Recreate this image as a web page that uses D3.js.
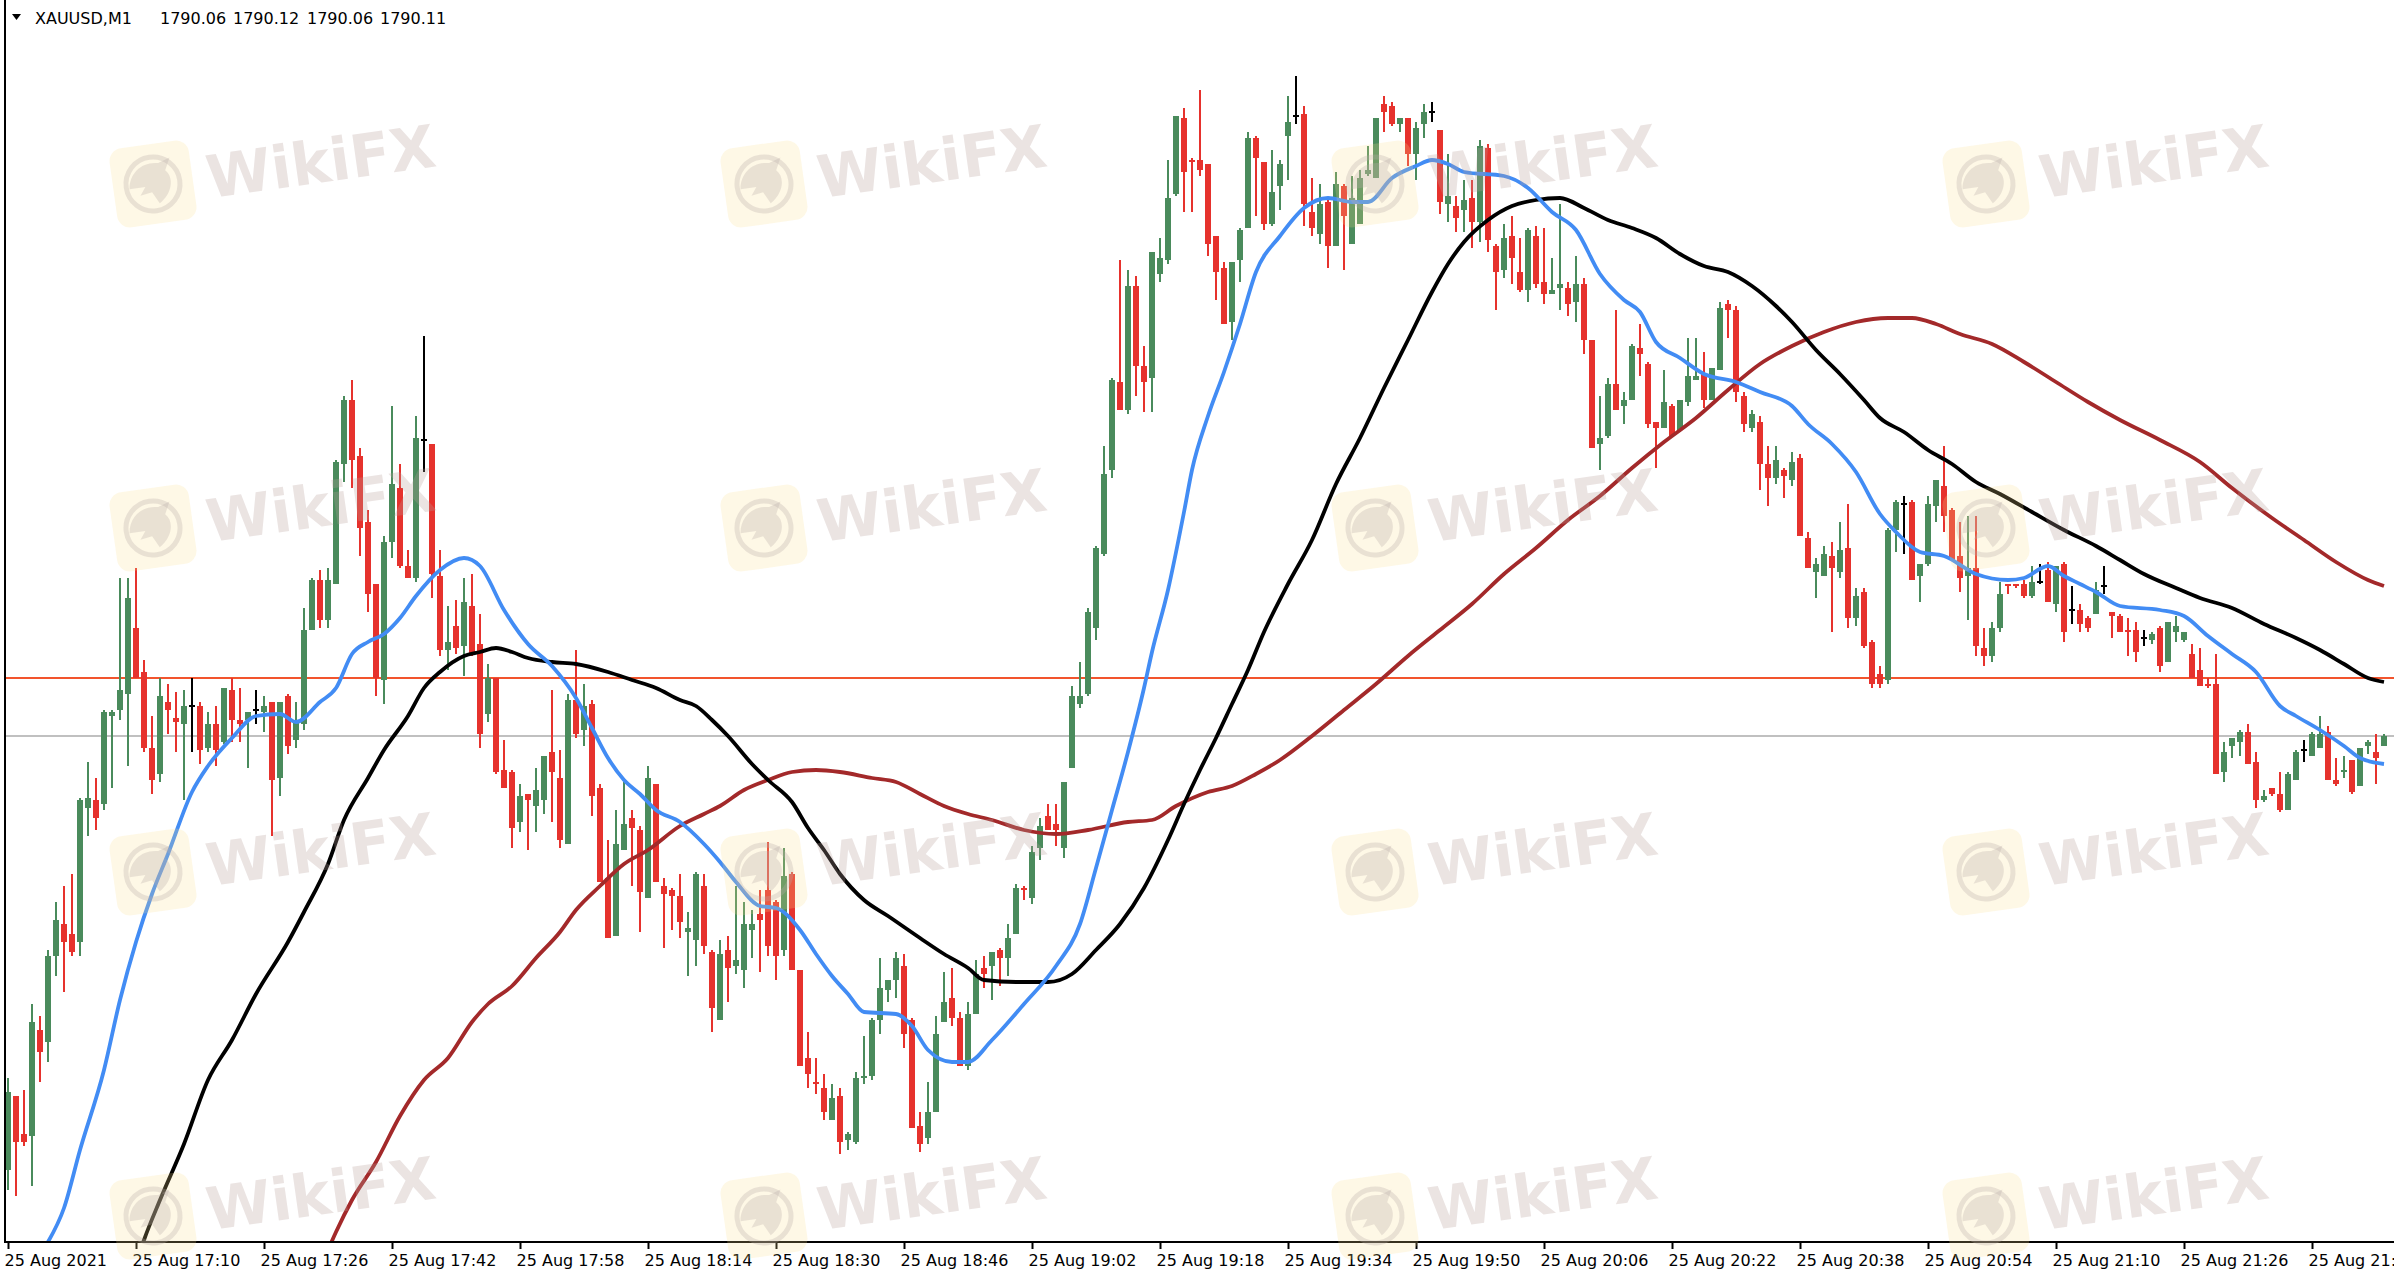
<!DOCTYPE html>
<html><head><meta charset="utf-8">
<script src="https://cdn.jsdelivr.net/npm/d3@7"></script>
<style>html,body{margin:0;padding:0;background:#fff;overflow:hidden}svg{display:block}</style>
</head><body>
<svg id="chart" width="2394" height="1270"></svg>
<script>
// ---------------- DATA (XAUUSD, M1, 25 Aug 2021, 16:54 ... 21:51) ----------------
const symbolLabel = "XAUUSD,M1";
const headerValues = [1790.06, 1790.12, 1790.06, 1790.11];
const hLevel = 1790.40;     // horizontal line (orange)
const bidPrice = 1790.11;   // last price line (gray)

const opens = [
1787.94,1788.31,1788.12,1788.11,1788.64,1788.58,1789.01,1789.17,1789.12,1789.08,
1789.75,1789.79,1789.77,1790.21,1790.24,1790.32,1790.65,1790.43,1790.05,1789.92,
1790.28,1790.20,1790.17,1790.26,1790.26,1790.05,1790.17,1790.08,1790.34,1790.19,
1790.19,1790.24,1790.23,1790.28,1789.90,1790.31,1790.09,1790.17,1790.64,1790.89,
1790.69,1790.87,1791.47,1791.79,1791.51,1791.18,1790.87,1790.39,1791.08,1791.35,
1790.96,1790.90,1791.59,1791.57,1790.91,1790.54,1790.66,1790.56,1790.76,1790.57,
1790.22,1790.40,1789.94,1789.93,1789.68,1789.82,1789.76,1789.79,1790.03,1789.90,
1789.57,1790.29,1790.14,1790.27,1789.85,1789.40,1789.11,1789.54,1789.70,1789.64,
1789.30,1789.87,1789.36,1789.34,1789.31,1789.13,1789.09,1789.36,1789.03,1788.69,
1789.04,1788.96,1788.94,1789.14,1789.22,1789.34,1789.28,1789.04,1789.42,1788.94,
1788.50,1788.38,1788.35,1788.19,1788.31,1788.09,1788.08,1788.40,1788.41,1788.69,
1788.84,1788.89,1788.96,1788.69,1788.16,1788.10,1788.23,1788.68,1788.80,1788.70,
1788.46,1788.72,1788.95,1788.96,1789.04,1789.00,1789.12,1789.35,1789.30,1789.55,
1789.71,1789.67,1789.55,1789.95,1790.27,1790.32,1790.65,1791.02,1791.44,1791.88,
1791.74,1792.36,1791.96,1791.90,1792.42,1792.49,1792.82,1793.20,1792.99,1792.99,
1792.97,1792.61,1792.45,1792.18,1792.49,1792.65,1793.10,1792.98,1792.67,1792.86,
1793.11,1793.21,1793.22,1792.73,1792.62,1792.78,1792.56,1792.86,1792.57,1792.67,
1792.92,1792.90,1793.27,1793.26,1793.17,1793.20,1793.02,1793.17,1793.23,1793.14,
1792.77,1792.76,1792.74,1792.80,1792.68,1793.05,1792.56,1792.44,1792.61,1792.43,
1792.34,1792.61,1792.38,1792.32,1792.35,1792.35,1792.28,1792.37,1792.09,1791.57,
1791.61,1791.87,1791.76,1791.79,1792.05,1791.97,1791.68,1791.65,1791.76,1791.64,
1791.78,1791.89,1791.92,1791.79,1791.94,1792.27,1792.24,1791.81,1791.65,1791.68,
1791.47,1791.40,1791.44,1791.39,1791.50,1791.10,1790.93,1790.91,1791.01,1790.93,
1791.05,1790.70,1790.83,1790.58,1790.42,1790.39,1791.14,1791.27,1791.28,1790.91,
1790.97,1791.26,1791.36,1791.24,1791.01,1790.91,1790.95,1790.55,1790.51,1790.65,
1790.87,1790.87,1790.87,1790.81,1790.88,1790.94,1790.77,1790.97,1790.74,1790.74,
1790.70,1790.72,1790.86,1790.73,1790.71,1790.64,1790.64,1790.60,1790.59,1790.65,
1790.48,1790.63,1790.59,1790.52,1790.44,1790.37,1790.37,1789.93,1790.06,1790.08,
1790.13,1789.98,1789.79,1789.85,1789.82,1789.74,1789.89,1790.04,1790.01,1790.05,
1790.13,1789.89,1789.93,1789.99,1789.86,1790.06,1790.03,1790.06];

const highs = [
1788.40,1788.31,1788.34,1788.77,1788.71,1789.04,1789.28,1789.36,1789.42,1789.80,
1789.98,1789.90,1790.24,1790.24,1790.90,1790.90,1790.95,1790.49,1790.21,1790.40,
1790.37,1790.33,1790.34,1790.40,1790.28,1790.23,1790.26,1790.35,1790.40,1790.35,
1790.23,1790.34,1790.31,1790.28,1790.28,1790.32,1790.28,1790.75,1790.90,1790.94,
1790.95,1791.49,1791.81,1791.89,1791.55,1791.24,1790.87,1791.11,1791.76,1791.47,
1791.04,1791.71,1792.11,1791.57,1791.04,1790.76,1790.79,1790.90,1790.92,1790.72,
1790.47,1790.40,1790.09,1789.94,1789.87,1789.82,1789.95,1790.01,1790.34,1790.04,
1790.32,1790.54,1790.37,1790.29,1789.87,1789.59,1789.74,1789.88,1789.74,1789.66,
1789.96,1789.87,1789.40,1789.35,1789.42,1789.23,1789.43,1789.42,1789.04,1789.09,
1789.11,1789.36,1789.28,1789.24,1789.34,1789.58,1789.29,1789.55,1789.43,1788.94,
1788.63,1788.50,1788.42,1788.37,1788.35,1788.13,1788.43,1788.61,1788.70,1789.00,
1788.89,1789.03,1789.02,1788.70,1788.23,1788.38,1788.71,1788.93,1788.95,1788.73,
1788.78,1788.99,1789.01,1789.03,1789.05,1789.17,1789.37,1789.36,1789.56,1789.70,
1789.77,1789.77,1789.88,1790.36,1790.48,1790.75,1791.06,1791.56,1791.90,1792.49,
1792.44,1792.41,1792.06,1792.53,1792.60,1792.99,1793.21,1793.25,1793.00,1793.34,
1792.97,1792.61,1792.48,1792.48,1792.65,1793.13,1793.11,1792.98,1793.04,1792.99,
1793.31,1793.41,1793.26,1792.90,1792.87,1792.80,1792.93,1792.87,1792.91,1792.94,
1793.06,1793.20,1793.31,1793.28,1793.20,1793.20,1793.18,1793.27,1793.28,1793.14,
1793.02,1792.81,1792.89,1792.89,1793.09,1793.07,1792.57,1792.67,1792.71,1792.60,
1792.65,1792.66,1792.65,1792.50,1792.77,1792.38,1792.51,1792.40,1792.09,1791.81,
1791.90,1792.24,1791.83,1792.07,1792.17,1791.98,1791.68,1791.94,1791.77,1791.79,
1792.10,1792.10,1792.03,1791.95,1792.28,1792.29,1792.26,1791.83,1791.74,1791.71,
1791.56,1791.56,1791.45,1791.53,1791.52,1791.13,1791.00,1791.06,1791.08,1791.18,
1791.27,1790.85,1790.85,1790.59,1790.46,1791.15,1791.29,1791.31,1791.29,1790.97,
1791.31,1791.39,1791.56,1791.25,1791.18,1791.21,1791.21,1790.65,1790.68,1790.88,
1790.87,1790.87,1790.89,1790.96,1790.97,1790.98,1790.96,1790.98,1790.86,1790.77,
1790.71,1790.88,1790.96,1790.73,1790.72,1790.70,1790.68,1790.64,1790.63,1790.66,
1790.68,1790.71,1790.63,1790.57,1790.55,1790.40,1790.52,1790.08,1790.10,1790.14,
1790.17,1790.03,1789.84,1789.85,1789.93,1789.93,1790.04,1790.09,1790.13,1790.21,
1790.16,1790.00,1790.01,1789.99,1790.05,1790.09,1790.12,1790.12];

const lows = [
1787.84,1787.81,1788.06,1787.86,1788.38,1788.48,1788.91,1788.83,1789.01,1789.01,
1789.61,1789.64,1789.74,1789.85,1790.19,1789.96,1790.40,1790.03,1789.82,1789.88,
1790.12,1790.03,1789.79,1790.03,1789.97,1790.03,1789.96,1790.07,1790.08,1790.08,
1789.95,1790.17,1790.13,1789.61,1789.81,1790.02,1790.05,1790.14,1790.64,1790.65,
1790.65,1790.87,1791.38,1791.35,1791.01,1790.73,1790.31,1790.27,1791.00,1790.95,
1790.90,1790.88,1791.43,1790.80,1790.51,1790.44,1790.52,1790.41,1790.51,1790.05,
1790.18,1789.92,1789.85,1789.55,1789.63,1789.54,1789.63,1789.72,1789.68,1789.55,
1789.57,1790.10,1790.06,1789.71,1789.38,1789.10,1789.11,1789.54,1789.36,1789.13,
1789.30,1789.38,1789.05,1789.14,1789.10,1788.91,1788.96,1789.02,1788.63,1788.69,
1788.78,1788.92,1788.85,1789.00,1788.93,1789.01,1788.89,1789.01,1788.94,1788.46,
1788.35,1788.32,1788.19,1788.19,1788.02,1788.04,1788.07,1788.37,1788.39,1788.62,
1788.78,1788.80,1788.55,1788.15,1788.03,1788.07,1788.23,1788.68,1788.66,1788.46,
1788.44,1788.72,1788.85,1788.79,1788.86,1788.91,1789.12,1789.29,1789.27,1789.49,
1789.64,1789.56,1789.50,1789.95,1790.25,1790.31,1790.59,1791.01,1791.40,1791.74,
1791.72,1791.81,1791.73,1791.73,1792.38,1792.47,1792.81,1792.73,1792.73,1792.91,
1792.51,1792.29,1792.17,1792.09,1792.38,1792.65,1792.71,1792.64,1792.66,1792.74,
1792.89,1793.17,1792.66,1792.61,1792.57,1792.45,1792.56,1792.44,1792.57,1792.67,
1792.91,1792.90,1793.13,1793.16,1793.13,1792.96,1792.89,1793.10,1793.18,1792.72,
1792.68,1792.63,1792.63,1792.55,1792.58,1792.53,1792.24,1792.40,1792.37,1792.33,
1792.28,1792.35,1792.27,1792.32,1792.24,1792.21,1792.18,1792.02,1791.55,1791.44,
1791.60,1791.74,1791.67,1791.79,1791.91,1791.65,1791.45,1791.65,1791.61,1791.63,
1791.76,1791.89,1791.75,1791.79,1791.94,1792.10,1791.78,1791.63,1791.63,1791.34,
1791.26,1791.37,1791.30,1791.36,1791.11,1790.95,1790.80,1790.91,1790.63,1790.90,
1790.65,1790.66,1790.55,1790.35,1790.35,1790.37,1791.03,1791.02,1790.89,1790.78,
1790.96,1791.18,1791.13,1790.99,1790.83,1790.69,1790.51,1790.46,1790.48,1790.63,
1790.82,1790.85,1790.80,1790.80,1790.87,1790.78,1790.73,1790.58,1790.67,1790.63,
1790.63,1790.72,1790.82,1790.60,1790.63,1790.51,1790.48,1790.56,1790.57,1790.43,
1790.48,1790.58,1790.58,1790.40,1790.36,1790.35,1789.92,1789.88,1790.00,1790.01,
1789.97,1789.75,1789.78,1789.81,1789.73,1789.74,1789.89,1789.98,1790.01,1790.05,
1789.89,1789.86,1789.90,1789.82,1789.86,1790.02,1789.87,1790.06];

const closes = [
1788.33,1788.08,1788.08,1788.68,1788.53,1789.01,1789.19,1789.08,1789.03,1789.79,
1789.80,1789.70,1790.23,1790.23,1790.34,1790.80,1790.40,1790.05,1789.89,1790.31,
1790.24,1790.18,1790.26,1790.26,1790.04,1790.17,1790.04,1790.35,1790.19,1790.17,
1790.23,1790.24,1790.26,1789.89,1790.28,1790.06,1790.18,1790.64,1790.89,1790.69,
1790.89,1791.48,1791.79,1791.49,1791.15,1790.82,1790.40,1791.08,1791.37,1790.96,
1790.90,1791.60,1791.59,1790.92,1790.54,1790.58,1790.55,1790.78,1790.52,1790.12,
1790.40,1789.93,1789.85,1789.65,1789.81,1789.79,1789.84,1790.01,1789.93,1789.59,
1790.29,1790.12,1790.26,1789.81,1789.38,1789.10,1789.57,1789.67,1789.65,1789.33,
1789.90,1789.38,1789.32,1789.31,1789.18,1789.15,1789.42,1789.06,1788.75,1789.02,
1788.95,1788.99,1789.17,1789.17,1789.19,1789.06,1789.01,1789.41,1788.94,1788.46,
1788.42,1788.37,1788.23,1788.30,1788.08,1788.12,1788.40,1788.41,1788.69,1788.85,
1788.89,1789.00,1788.62,1788.15,1788.07,1788.23,1788.62,1788.78,1788.70,1788.46,
1788.72,1788.92,1788.92,1789.03,1789.00,1789.10,1789.35,1789.34,1789.53,1789.66,
1789.64,1789.64,1789.88,1790.31,1790.31,1790.73,1791.05,1791.42,1791.89,1791.74,
1792.36,1791.96,1791.88,1792.53,1792.50,1792.80,1793.21,1792.93,1792.98,1792.94,
1792.57,1792.43,1792.17,1792.48,1792.64,1793.10,1793.00,1792.67,1792.83,1792.97,
1793.18,1793.21,1792.77,1792.65,1792.77,1792.56,1792.87,1792.71,1792.80,1792.90,
1792.94,1793.20,1793.23,1793.17,1793.20,1793.02,1793.15,1793.23,1793.23,1792.78,
1792.81,1792.70,1792.79,1792.68,1793.06,1792.59,1792.43,1792.60,1792.50,1792.34,
1792.64,1792.37,1792.32,1792.34,1792.37,1792.27,1792.37,1792.09,1791.55,1791.60,
1791.87,1791.74,1791.79,1792.06,1792.02,1791.67,1791.65,1791.78,1791.61,1791.79,
1791.91,1791.91,1791.79,1791.95,1792.25,1792.24,1791.83,1791.67,1791.72,1791.47,
1791.40,1791.49,1791.41,1791.48,1791.11,1790.95,1790.97,1791.02,1790.95,1791.04,
1790.70,1790.81,1790.56,1790.37,1790.37,1791.14,1791.28,1791.27,1790.89,1790.97,
1791.27,1791.39,1791.21,1790.99,1790.90,1790.95,1790.56,1790.51,1790.65,1790.82,
1790.86,1790.86,1790.81,1790.88,1790.88,1790.78,1790.96,1790.63,1790.74,1790.67,
1790.65,1790.84,1790.86,1790.71,1790.63,1790.63,1790.53,1790.60,1790.62,1790.46,
1790.68,1790.66,1790.63,1790.40,1790.36,1790.36,1789.92,1790.03,1790.10,1790.13,
1789.97,1789.79,1789.81,1789.82,1789.74,1789.92,1790.03,1790.04,1790.12,1790.12,
1789.89,1789.87,1789.94,1789.83,1790.05,1790.08,1790.00,1790.11];

const tickBars = [0,16,32,48,64,80,96,112,128,144,160,176,192,208,224,240,256,272,288];
const tickLabels = ["25 Aug 2021","25 Aug 17:10","25 Aug 17:26","25 Aug 17:42","25 Aug 17:58",
"25 Aug 18:14","25 Aug 18:30","25 Aug 18:46","25 Aug 19:02","25 Aug 19:18","25 Aug 19:34",
"25 Aug 19:50","25 Aug 20:06","25 Aug 20:22","25 Aug 20:38","25 Aug 20:54","25 Aug 21:10",
"25 Aug 21:26","25 Aug 21:42"];

// moving averages: [bar index, price]
const maFast = [[5,1787.58],[7,1787.75],[9,1788.04],[12,1788.44],[14,1788.79],[16,1789.08],[18,1789.32],[20,1789.52],[23,1789.83],[25,1789.96],[28,1790.10],[31,1790.21],[34,1790.22],[36,1790.18],[39,1790.28],[41,1790.35],[43,1790.52],[45,1790.58],[47,1790.62],[49,1790.70],[51,1790.81],[54,1790.94],[57,1791.00],[59,1790.96],[62,1790.74],[65,1790.57],[68,1790.46],[71,1790.30],[73,1790.15],[75,1790.00],[77,1789.89],[79,1789.82],[81,1789.74],[84,1789.68],[87,1789.57],[89,1789.48],[91,1789.38],[94,1789.26],[96,1789.25],[99,1789.14],[101,1789.02],[103,1788.91],[105,1788.82],[107,1788.73],[111,1788.72],[113,1788.66],[115,1788.54],[118,1788.48],[120,1788.48],[123,1788.59],[127,1788.77],[131,1788.96],[134,1789.17],[136,1789.45],[138,1789.74],[140,1790.03],[142,1790.35],[143,1790.53],[145,1790.84],[147,1791.23],[148,1791.44],[150,1791.71],[152,1791.93],[154,1792.17],[156,1792.43],[159,1792.61],[162,1792.75],[165,1792.80],[168,1792.78],[170,1792.78],[173,1792.90],[176,1792.96],[178,1792.99],[180,1792.97],[182,1792.93],[187,1792.91],[190,1792.85],[193,1792.73],[196,1792.64],[199,1792.42],[202,1792.29],[204,1792.23],[206,1792.08],[209,1792.00],[212,1791.92],[216,1791.88],[219,1791.83],[223,1791.76],[225,1791.67],[228,1791.57],[231,1791.43],[234,1791.22],[236,1791.13],[239,1791.03],[242,1791.01],[246,1790.92],[250,1790.89],[252,1790.90],[255,1790.96],[257,1790.91],[259,1790.87],[261,1790.83],[264,1790.76],[269,1790.74],[272,1790.71],[275,1790.61],[278,1790.52],[281,1790.43],[284,1790.26],[286,1790.21],[289,1790.14],[292,1790.06],[294,1790.00],[297,1789.97]];

const maMid = [[16,1787.47],[17,1787.59],[19,1787.79],[22,1788.07],[25,1788.39],[28,1788.59],[31,1788.82],[35,1789.08],[37,1789.23],[40,1789.47],[42,1789.69],[45,1789.90],[47,1790.04],[50,1790.21],[52,1790.35],[54,1790.43],[57,1790.51],[59,1790.53],[61,1790.55],[63,1790.53],[65,1790.50],[68,1790.48],[71,1790.47],[75,1790.43],[78,1790.39],[81,1790.35],[84,1790.29],[86,1790.26],[88,1790.19],[90,1790.11],[93,1789.97],[95,1789.89],[98,1789.78],[100,1789.65],[102,1789.54],[104,1789.42],[107,1789.29],[110,1789.21],[114,1789.10],[117,1789.02],[120,1788.95],[122,1788.89],[126,1788.88],[130,1788.88],[133,1788.92],[136,1789.04],[139,1789.17],[142,1789.35],[145,1789.59],[147,1789.77],[149,1789.94],[151,1790.10],[153,1790.27],[155,1790.44],[157,1790.63],[160,1790.87],[163,1791.09],[166,1791.37],[169,1791.60],[172,1791.85],[175,1792.09],[178,1792.33],[180,1792.47],[182,1792.58],[185,1792.69],[188,1792.76],[191,1792.79],[194,1792.80],[197,1792.75],[200,1792.69],[203,1792.65],[206,1792.60],[209,1792.52],[212,1792.46],[215,1792.43],[218,1792.36],[221,1792.26],[223,1792.18],[226,1792.04],[229,1791.92],[232,1791.79],[234,1791.70],[237,1791.63],[240,1791.54],[243,1791.47],[246,1791.38],[249,1791.32],[253,1791.23],[257,1791.14],[261,1791.06],[264,1790.99],[267,1790.92],[271,1790.85],[274,1790.80],[278,1790.75],[282,1790.67],[286,1790.60],[289,1790.54],[292,1790.47],[295,1790.40],[297,1790.38]];

const maSlow = [[40,1787.54],[41,1787.63],[43,1787.79],[46,1787.98],[49,1788.21],[52,1788.39],[55,1788.50],[58,1788.68],[60,1788.77],[63,1788.86],[66,1789.00],[69,1789.13],[71,1789.24],[74,1789.36],[77,1789.47],[80,1789.54],[84,1789.66],[87,1789.72],[89,1789.76],[92,1789.84],[95,1789.89],[98,1789.93],[101,1789.94],[104,1789.93],[108,1789.90],[111,1789.88],[114,1789.82],[117,1789.76],[120,1789.72],[123,1789.69],[127,1789.64],[131,1789.62],[135,1789.64],[140,1789.68],[143,1789.69],[146,1789.76],[150,1789.83],[153,1789.86],[156,1789.92],[159,1789.99],[163,1790.11],[167,1790.24],[171,1790.37],[175,1790.51],[179,1790.64],[183,1790.77],[187,1790.92],[191,1791.05],[195,1791.19],[199,1791.31],[203,1791.45],[207,1791.58],[211,1791.70],[215,1791.84],[219,1791.97],[223,1792.06],[227,1792.13],[231,1792.18],[235,1792.20],[238,1792.20],[241,1792.17],[244,1792.12],[248,1792.07],[252,1791.98],[256,1791.88],[260,1791.78],[264,1791.69],[269,1791.59],[274,1791.48],[278,1791.35],[283,1791.20],[287,1791.09],[291,1790.98],[295,1790.89],[297,1790.86]];

// ---------------- DRAWING ----------------
const svg = d3.select("#chart");
const plotTop = 0, plotBottom = 1242, plotLeft = 5, plotRight = 2394;
const n = Math.min(opens.length, highs.length, lows.length, closes.length);
const bars = d3.range(n).map(i => ({i, o: opens[i], h: highs[i], l: lows[i], c: closes[i]}));

const x = d3.scaleLinear().domain([0, 297]).range([8, 2384]);
const y = d3.scaleLinear().domain([1787.58, 1793.79]).range([plotBottom, plotTop]);

svg.append("rect").attr("width", 2394).attr("height", 1270).attr("fill", "#fff");

svg.append("defs").append("clipPath").attr("id", "plotclip")
  .append("rect").attr("x", plotLeft).attr("y", plotTop)
  .attr("width", plotRight - plotLeft).attr("height", plotBottom - plotTop);

const plot = svg.append("g").attr("clip-path", "url(#plotclip)");

// horizontal lines
plot.append("line").attr("x1", plotLeft).attr("x2", plotRight)
  .attr("y1", y(bidPrice)).attr("y2", y(bidPrice))
  .attr("stroke", "#c0c0c0").attr("stroke-width", 2);
plot.append("line").attr("x1", plotLeft).attr("x2", plotRight)
  .attr("y1", y(hLevel)).attr("y2", y(hLevel))
  .attr("stroke", "#f2542d").attr("stroke-width", 2);

// candles
const UP = "#4a8b5c", DOWN = "#e6322d", DOJI = "#000";
const colorOf = d => d.c > d.o ? UP : (d.c < d.o ? DOWN : DOJI);
const bodyW = 6, wickW = 2;
const cg = plot.append("g").attr("shape-rendering", "crispEdges");
cg.selectAll("rect.wick").data(bars).join("rect").attr("class", "wick")
  .attr("x", d => Math.round(x(d.i)) - wickW / 2)
  .attr("width", wickW)
  .attr("y", d => y(d.h))
  .attr("height", d => Math.max(1, y(d.l) - y(d.h)))
  .attr("fill", colorOf);
cg.selectAll("rect.body").data(bars).join("rect").attr("class", "body")
  .attr("x", d => Math.round(x(d.i)) - bodyW / 2)
  .attr("width", bodyW)
  .attr("y", d => Math.min(y(d.o), y(d.c)) - (d.o === d.c ? 1 : 0))
  .attr("height", d => Math.max(2, Math.abs(y(d.o) - y(d.c))))
  .attr("fill", colorOf);

// moving averages
const line = d3.line().x(d => x(d[0])).y(d => y(d[1])).curve(d3.curveMonotoneX);
const maW = 3.8;
plot.append("path").datum(maSlow).attr("d", line).attr("fill", "none")
  .attr("stroke", "#a3292a").attr("stroke-width", maW).attr("stroke-linejoin", "round");
plot.append("path").datum(maMid).attr("d", line).attr("fill", "none")
  .attr("stroke", "#000").attr("stroke-width", maW).attr("stroke-linejoin", "round");
plot.append("path").datum(maFast).attr("d", line).attr("fill", "none")
  .attr("stroke", "#428cf4").attr("stroke-width", maW).attr("stroke-linejoin", "round");

// frame
svg.append("line").attr("x1", plotLeft).attr("x2", plotLeft).attr("y1", 0).attr("y2", plotBottom + 1)
  .attr("stroke", "#000").attr("stroke-width", 2);
svg.append("line").attr("x1", plotLeft - 1).attr("x2", plotRight).attr("y1", plotBottom).attr("y2", plotBottom)
  .attr("stroke", "#000").attr("stroke-width", 2);

// x axis
const xAxis = d3.axisBottom(x).tickValues(tickBars)
  .tickFormat((d, i) => tickLabels[i]).tickSize(7).tickSizeOuter(0);
const gx = svg.append("g").attr("transform", `translate(0,${plotBottom})`).call(xAxis);
gx.select(".domain").remove();
gx.selectAll(".tick line").attr("stroke", "#000").attr("stroke-width", 2);
gx.selectAll(".tick text")
  .attr("text-anchor", "start").attr("x", -4).attr("y", 24).attr("dy", null)
  .attr("fill", "#000").style("font-family", "'DejaVu Sans', sans-serif").style("font-size", "16px");

// header
svg.append("path").attr("d", "M12,14 L21,14 L16.5,20 Z").attr("fill", "#000");
const hdr = svg.append("g").style("font-family", "'DejaVu Sans', sans-serif").style("font-size", "16px");
hdr.append("text").attr("x", 35).attr("y", 24).text(symbolLabel);
const hdrX = [160, 233, 307, 380];
hdr.selectAll("text.v").data(headerValues).join("text").attr("class", "v")
  .attr("x", (d, i) => hdrX[i]).attr("y", 24).text(d => d.toFixed(2));

// watermarks
const wmCols = [153, 764, 1375, 1986], wmRows = [184, 528, 872, 1216];
const wm = svg.append("g").attr("pointer-events", "none");
wmRows.forEach(cy => wmCols.forEach(cx => {
  const g = wm.append("g").attr("transform", `translate(${cx},${cy}) rotate(-8)`);
  g.append("rect").attr("x", -40).attr("y", -40).attr("width", 80).attr("height", 80)
    .attr("rx", 13).attr("fill", "#f9de8c").attr("opacity", 0.22);
  g.append("circle").attr("r", 27).attr("fill", "none").attr("stroke", "#b9aca8")
    .attr("stroke-width", 5).attr("opacity", 0.3);
  g.append("path").attr("d", "M-24,2 C-22,-14 -8,-24 8,-20 L20,-24 L14,-12 C22,-4 18,12 4,20 L-2,8 L-14,10 L-8,2 Z")
    .attr("fill", "#b9aca8").attr("opacity", 0.3);
  g.append("text").attr("x", 54).attr("y", 22).text("WikiFX")
    .style("font-family", "'DejaVu Sans', sans-serif").style("font-weight", "bold")
    .style("font-size", "59px").attr("fill", "#b89f9a").attr("opacity", 0.28);
}));
</script>
</body></html>
